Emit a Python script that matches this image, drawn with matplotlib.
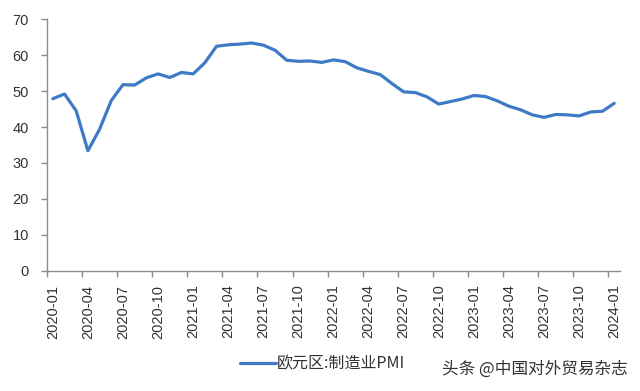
import matplotlib
matplotlib.use("Agg")
import matplotlib.pyplot as plt
import numpy as np

months = [f"{y}-{m:02d}" for y in range(2020, 2024) for m in range(1, 13)] + ["2024-01"]
pmi = [47.9, 49.2, 44.5, 33.4, 39.4, 47.4, 51.8, 51.7, 53.7, 54.8, 53.8, 55.2,
       54.8, 57.9, 62.5, 62.9, 63.1, 63.4, 62.8, 61.4, 58.6, 58.3, 58.4, 58.0,
       58.7, 58.2, 56.5, 55.5, 54.6, 52.1, 49.8, 49.6, 48.4, 46.4, 47.1, 47.8,
       48.8, 48.5, 47.3, 45.8, 44.8, 43.4, 42.7, 43.5, 43.4, 43.1, 44.2, 44.4,
       46.6]
series_name = "欧元区:制造业PMI"
yticks = [0, 10, 20, 30, 40, 50, 60, 70]
watermark = "头条 @中国对外贸易杂志"

plt.rcParams['font.family'] = ['Liberation Sans', 'Noto Sans CJK SC', 'DejaVu Sans']

fig = plt.figure(figsize=(6.4, 3.91), dpi=100)
ax = fig.add_axes([0.0734, 0.3077, 0.8954, 0.6429])

x = np.arange(len(months))
line, = ax.plot(x, pmi, color='#3F7AC6', lw=2.3, solid_joinstyle='round',
                solid_capstyle='round', label=series_name)

ax.set_xlim(-0.5, len(months) - 0.5)
ax.set_ylim(0, 70)
ax.set_yticks(yticks)
ax.set_yticklabels([str(v) for v in yticks])

# major ticks at category boundaries every 3 months, labels at category centres
ax.set_xticks(np.arange(-0.5, len(months) - 1, 3))
ax.set_xticklabels([])
lab_idx = np.arange(0, len(months), 3)
ax.set_xticks(lab_idx, minor=True)
ax.set_xticklabels([months[i] for i in lab_idx], minor=True, rotation=90)

for s in ['top', 'right']:
    ax.spines[s].set_visible(False)
for s in ['left', 'bottom']:
    ax.spines[s].set_color('#8C8C8C')
    ax.spines[s].set_linewidth(1.0)

ax.tick_params(axis='y', which='major', length=4, width=1, color='#8C8C8C',
               labelsize=10.5, labelcolor='#333333', pad=9)
ax.tick_params(axis='x', which='major', length=4, width=1, color='#8C8C8C')
ax.tick_params(axis='x', which='minor', length=0, labelsize=10.5,
               labelcolor='#333333', pad=10)

leg = fig.legend(handles=[line], labels=[series_name], loc='center',
                 bbox_to_anchor=(0.504, 1 - 364 / 391), frameon=False,
                 handlelength=2.2, handletextpad=0.05,
                 prop={'family': ['Noto Sans CJK SC', 'DejaVu Sans'], 'size': 11.5})
for t in leg.get_texts():
    t.set_color('#333333')

fig.text(628 / 640, 1 - 369 / 391, watermark, ha='right', va='center',
         fontsize=12, color='#333333', family=['Noto Sans CJK SC', 'DejaVu Sans'])

fig.savefig("out.png", dpi=100)
